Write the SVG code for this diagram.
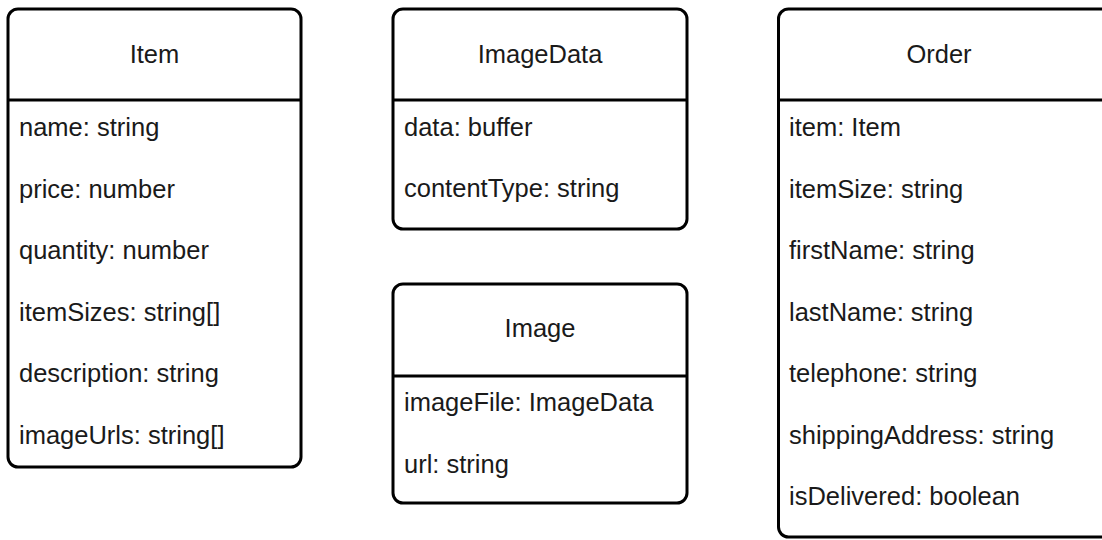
<svg xmlns="http://www.w3.org/2000/svg" width="1102" height="540" viewBox="0 0 1102 540">
<style>
.box{fill:#fff;stroke:#000;stroke-width:3}
.div{stroke:#000;stroke-width:3}
text{font-family:"Liberation Sans",Arial,sans-serif;font-size:25.5px;fill:#1a1a1a}
.t{text-anchor:middle}
</style>
<rect width="1102" height="540" fill="#fff"/>
<g id="item">
<rect class="box" x="8" y="9" width="293" height="458" rx="10"/>
<line class="div" x1="8" y1="100" x2="301" y2="100"/>
<text class="t" x="154.5" y="63">Item</text>
<text x="19" y="136">name: string</text>
<text x="19" y="197.5">price: number</text>
<text x="19" y="259">quantity: number</text>
<text x="19" y="320.5">itemSizes: string[]</text>
<text x="19" y="382">description: string</text>
<text x="19" y="443.5">imageUrls: string[]</text>
</g>
<g id="imagedata">
<rect class="box" x="393" y="9" width="294" height="220" rx="10"/>
<line class="div" x1="393" y1="100" x2="687" y2="100"/>
<text class="t" x="540" y="63">ImageData</text>
<text x="404" y="135.5">data: buffer</text>
<text x="404" y="197">contentType: string</text>
</g>
<g id="image">
<rect class="box" x="393" y="284" width="294" height="219" rx="10"/>
<line class="div" x1="393" y1="376" x2="687" y2="376"/>
<text class="t" x="540" y="337">Image</text>
<text x="404" y="411">imageFile: ImageData</text>
<text x="404" y="472.5">url: string</text>
</g>
<g id="order">
<rect class="box" x="778.5" y="9" width="340" height="528" rx="10"/>
<line class="div" x1="778.5" y1="100" x2="1118" y2="100"/>
<text class="t" x="939" y="63">Order</text>
<text x="789" y="136">item: Item</text>
<text x="789" y="197.5">itemSize: string</text>
<text x="789" y="259">firstName: string</text>
<text x="789" y="320.5">lastName: string</text>
<text x="789" y="382">telephone: string</text>
<text x="789" y="443.5">shippingAddress: string</text>
<text x="789" y="505">isDelivered: boolean</text>
</g>
<g id="connectors"></g>
</svg>
